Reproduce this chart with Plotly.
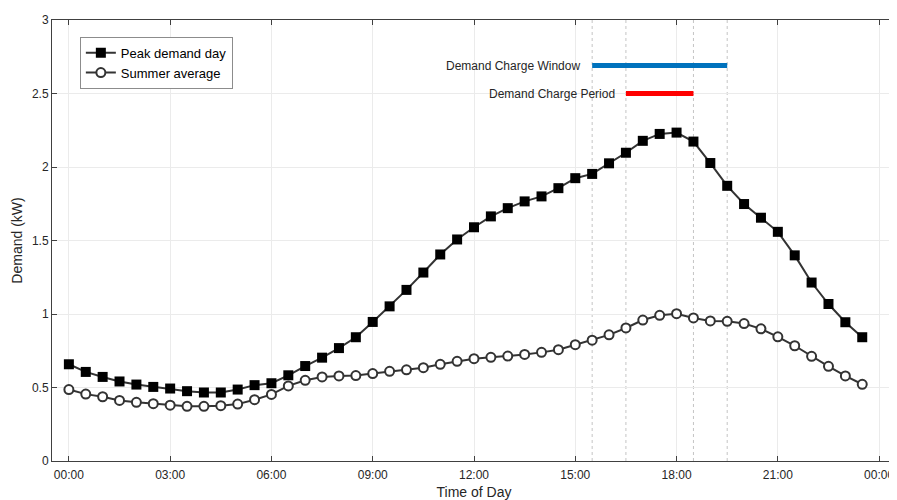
import plotly.graph_objects as go

hours = [i * 0.5 for i in range(48)]
peak_day = [0.658, 0.606, 0.572, 0.541, 0.520, 0.504, 0.493, 0.475, 0.466, 0.466,
            0.486, 0.516, 0.529, 0.583, 0.646, 0.703, 0.768, 0.842, 0.946, 1.052,
            1.164, 1.282, 1.405, 1.507, 1.590, 1.664, 1.720, 1.766, 1.800, 1.856,
            1.924, 1.953, 2.025, 2.097, 2.178, 2.225, 2.234, 2.173, 2.027, 1.872,
            1.748, 1.655, 1.559, 1.399, 1.214, 1.068, 0.944, 0.842]
summer_avg = [0.486, 0.455, 0.437, 0.412, 0.399, 0.390, 0.380, 0.372, 0.372, 0.376,
              0.387, 0.417, 0.453, 0.511, 0.549, 0.572, 0.579, 0.581, 0.595, 0.610,
              0.620, 0.635, 0.658, 0.678, 0.696, 0.705, 0.714, 0.725, 0.739, 0.757,
              0.791, 0.822, 0.858, 0.905, 0.959, 0.991, 1.002, 0.973, 0.953, 0.950,
              0.935, 0.899, 0.845, 0.784, 0.712, 0.644, 0.579, 0.522]

window_hours = [15.5, 19.5]
window_level = 2.69
period_hours = [16.5, 18.5]
period_level = 2.5

tick_hours = [0, 3, 6, 9, 12, 15, 18, 21, 24]
tick_labels = ["00:00", "03:00", "06:00", "09:00", "12:00", "15:00", "18:00", "21:00", "00:00"]
y_ticks = [0, 0.5, 1, 1.5, 2, 2.5, 3]
y_labels = ["0", "0.5", "1", "1.5", "2", "2.5", "3"]

FONT = "Liberation Sans, Arial, sans-serif"
LINE = "#333333"
TXT = "#262626"

fig = go.Figure()

for xv in window_hours + period_hours:
    fig.add_shape(type="line", x0=xv, x1=xv, y0=0, y1=3, xref="x", yref="y",
                  line=dict(color="#c4c4c4", width=1, dash="dot"), layer="below")

fig.add_trace(go.Scatter(
    x=hours, y=peak_day, mode="lines+markers", name="Peak demand day",
    line=dict(color=LINE, width=2),
    marker=dict(symbol="square", size=10, color="black", line=dict(color="black", width=0)),
))
fig.add_trace(go.Scatter(
    x=hours, y=summer_avg, mode="lines+markers", name="Summer average",
    line=dict(color=LINE, width=2),
    marker=dict(symbol="circle", size=9, color="white", line=dict(color=LINE, width=2)),
))

fig.add_trace(go.Scatter(
    x=window_hours, y=[window_level, window_level], mode="lines", showlegend=False,
    line=dict(color="#0072BD", width=5),
))
fig.add_trace(go.Scatter(
    x=period_hours, y=[period_level, period_level], mode="lines", showlegend=False,
    line=dict(color="#FF0000", width=5),
))

fig.add_annotation(x=window_hours[0], y=window_level, text="Demand Charge Window",
                   showarrow=False, xanchor="right", yanchor="middle", xshift=-10,
                   font=dict(family=FONT, size=12, color=TXT))
fig.add_annotation(x=period_hours[0], y=period_level, text="Demand Charge Period",
                   showarrow=False, xanchor="right", yanchor="middle", xshift=-9,
                   font=dict(family=FONT, size=12, color=TXT))

fig.update_layout(
    width=889, height=492,
    margin=dict(l=44, r=0, t=12, b=33),
    paper_bgcolor="white", plot_bgcolor="white",
    font=dict(family=FONT, size=13, color=TXT),
    showlegend=True,
    legend=dict(x=0.033, y=0.962, xanchor="left", yanchor="top",
                bgcolor="white", bordercolor="#8c8c8c", borderwidth=1,
                font=dict(family=FONT, size=13, color="black"),
                itemwidth=30, tracegroupgap=0),
)
fig.update_xaxes(
    range=[-0.5, 24.5], tickmode="array", tickvals=tick_hours, ticktext=tick_labels,
    showgrid=True, gridcolor="#ebebeb", gridwidth=1, zeroline=False,
    showline=True, linecolor="#404040", linewidth=1, mirror="ticks",
    ticks="inside", ticklen=5, tickcolor="#404040", ticklabelstandoff=3,
    tickfont=dict(family=FONT, size=12, color=TXT),
    title=dict(text="Time of Day", font=dict(family=FONT, size=14, color=TXT), standoff=8),
)
fig.update_yaxes(
    range=[0, 3], tickmode="array", tickvals=y_ticks, ticktext=y_labels,
    showgrid=True, gridcolor="#ebebeb", gridwidth=1, zeroline=False,
    showline=True, linecolor="#404040", linewidth=1, mirror="ticks",
    ticks="inside", ticklen=5, tickcolor="#404040",
    tickfont=dict(family=FONT, size=12, color=TXT),
    title=dict(text="Demand (kW)", font=dict(family=FONT, size=14, color=TXT), standoff=6),
)

fig.write_html("out.html")
